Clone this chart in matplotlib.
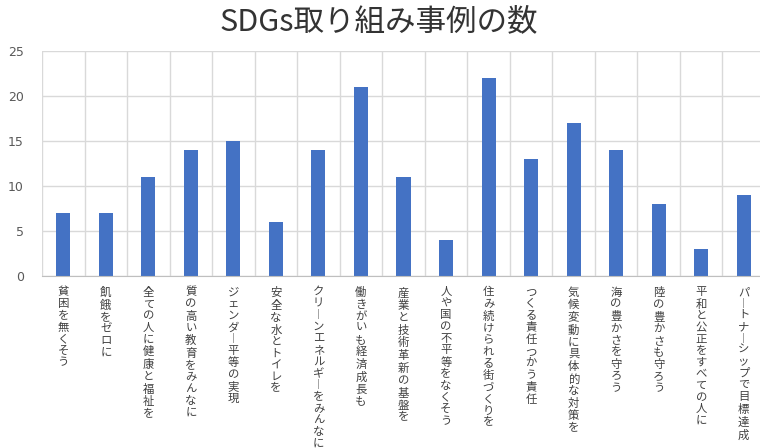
import matplotlib
matplotlib.use("Agg")
import matplotlib.pyplot as plt
import numpy as np

plt.rcParams['font.family'] = ['Noto Sans CJK JP', 'DejaVu Sans']

title = "SDGs取り組み事例の数"
categories = [
    "貧困を無くそう",
    "飢餓をゼロに",
    "全ての人に健康と福祉を",
    "質の高い教育をみんなに",
    "ジェンダー平等の実現",
    "安全な水とトイレを",
    "クリーンエネルギーをみんなに",
    "働きがいも経済成長も",
    "産業と技術革新の基盤を",
    "人や国の不平等をなくそう",
    "住み続けられる街づくりを",
    "つくる責任つかう責任",
    "気候変動に具体的な対策を",
    "海の豊かさを守ろう",
    "陸の豊かさも守ろう",
    "平和と公正をすべての人に",
    "パートナーシップで目標達成",
]
values = [7, 7, 11, 14, 15, 6, 14, 21, 11, 4, 22, 13, 17, 14, 8, 3, 9]
yticks = [0, 5, 10, 15, 20, 25]

W, H = 760, 448
fig = plt.figure(figsize=(W / 100, H / 100), dpi=100)
left, right, top, bottom = 42, 765, 51, 276
ax = fig.add_axes([left / W, 1 - bottom / H, (right - left) / W, (bottom - top) / H])

x = np.arange(len(categories))
ax.bar(x, values, width=0.33, color='#4472C4', zorder=3)

ax.set_xlim(-0.5, len(categories) - 0.5)
ax.set_ylim(0, 25)
ax.set_yticks(yticks)
ax.set_yticklabels([str(v) for v in yticks], fontsize=9, color='#595959',
                   family='DejaVu Sans')

def vert(s):
    return "\n".join('︱' if c == 'ー' else c for c in s)

ax.set_xticks(x)
ax.set_xticklabels([vert(c) for c in categories], fontsize=8.2, color='#404040',
                   linespacing=1.2, va='top', ha='center')
ax.set_xticks(np.arange(len(categories) + 1) - 0.5, minor=True)
ax.tick_params(axis='x', which='both', length=0, pad=8)
ax.tick_params(axis='y', length=0, pad=13)

ax.grid(axis='y', which='major', color='#d9d9d9', linewidth=1, zorder=0)
ax.grid(axis='x', which='minor', color='#d9d9d9', linewidth=1, zorder=0)
ax.grid(axis='x', which='major', visible=False)

for s in ['top', 'right', 'left']:
    ax.spines[s].set_visible(False)
ax.spines['bottom'].set_color('#bfbfbf')
ax.spines['bottom'].set_zorder(4)

fig.text(379 / W, 1 - 22 / H, title, fontsize=22, weight='normal', color='#333333',
         ha='center', va='center')

fig.savefig("out.png", dpi=100)
